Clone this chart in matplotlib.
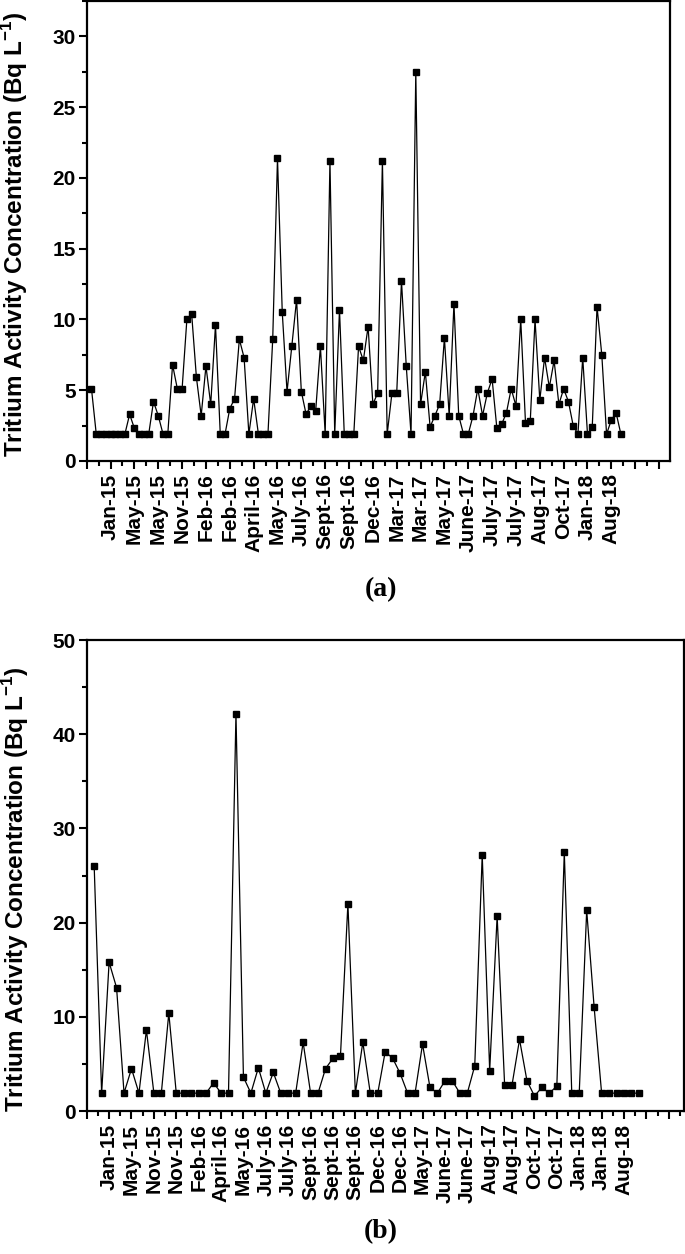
import numpy as np
import matplotlib
matplotlib.use("Agg")
import matplotlib.pyplot as plt
from matplotlib.ticker import MultipleLocator, FixedLocator

## Datos (a) y (b)
conc_a = [5.1, 1.9, 1.9, 1.9, 1.9, 1.9, 1.9, 1.9, 3.3, 2.3,
          1.9, 1.9, 1.9, 4.2, 3.2, 1.9, 1.9, 6.8, 5.1, 5.1,
          10.0, 10.4, 5.9, 3.2, 6.7, 4.0, 9.6, 1.9, 1.9, 3.7,
          4.4, 8.6, 7.3, 1.9, 4.4, 1.9, 1.9, 1.9, 8.6, 21.4,
          10.5, 4.9, 8.1, 11.4, 4.9, 3.3, 3.9, 3.5, 8.1, 1.9,
          21.2, 1.9, 10.7, 1.9, 1.9, 1.9, 8.1, 7.1, 9.5, 4.0,
          4.8, 21.2, 1.9, 4.8, 4.8, 12.7, 6.7, 1.9, 27.5, 4.0,
          6.3, 2.4, 3.2, 4.0, 8.7, 3.2, 11.1, 3.2, 1.9, 1.9,
          3.2, 5.1, 3.2, 4.8, 5.8, 2.3, 2.6, 3.4, 5.1, 3.9,
          10.0, 2.7, 2.8, 10.0, 4.3, 7.3, 5.2, 7.1, 4.0, 5.1,
          4.2, 2.5, 1.9, 7.3, 1.9, 2.4, 10.9, 7.5, 1.9, 2.9,
          3.4, 1.9]

conc_b = [26.0, 1.9, 15.8, 13.1, 1.9, 4.5, 1.9, 8.6, 1.9, 1.9,
          10.4, 1.9, 1.9, 1.9, 1.9, 1.9, 3.0, 1.9, 1.9, 42.2,
          3.6, 1.9, 4.6, 1.9, 4.1, 1.9, 1.9, 1.9, 7.3, 1.9,
          1.9, 4.5, 5.6, 5.8, 22.0, 1.9, 7.3, 1.9, 1.9, 6.3,
          5.6, 4.0, 1.9, 1.9, 7.1, 2.5, 1.9, 3.2, 3.2, 1.9,
          1.9, 4.8, 27.2, 4.3, 20.7, 2.8, 2.8, 7.6, 3.2, 1.6,
          2.5, 1.9, 2.65, 27.5, 1.9, 1.9, 21.3, 11.0, 1.9, 1.9,
          1.9, 1.9, 1.9, 1.9]

etiquetas_a = ["Jan-15", "May-15", "May-15", "Nov-15", "Feb-16", "Feb-16",
               "April-16", "May-16", "July-16", "Sept-16", "Sept-16", "Dec-16",
               "Mar-17", "Mar-17", "May-17", "June-17", "July-17", "July-17",
               "Aug-17", "Oct-17", "Jan-18", "Aug-18"]

etiquetas_b = ["Jan-15", "May-15", "Nov-15", "Nov-15", "Feb-16", "April-16",
               "May-16", "July-16", "July-16", "Sept-16", "Sept-16", "Sept-16",
               "Dec-16", "Dec-16", "May-17", "June-17", "June-17", "Aug-17",
               "Aug-17", "Oct-17", "Oct-17", "Jan-18", "Jan-18", "Aug-18"]

plt.rcParams['font.family'] = ['Liberation Sans', 'DejaVu Sans']
plt.rcParams['font.weight'] = 'bold'
plt.rcParams['mathtext.fontset'] = 'custom'
plt.rcParams['mathtext.bf'] = 'Liberation Sans:bold'
plt.rcParams['mathtext.rm'] = 'Liberation Sans:bold'

fig = plt.figure(figsize=(6.85, 12.54), dpi=100)
ax_a = fig.add_axes([0.1266, 0.6324, 0.8515, 0.3668])
ax_b = fig.add_axes([0.1266, 0.1140, 0.8715, 0.3756])

ylabel = r'Tritium Activity Concentration (Bq L$^{\mathbf{-1}}$)'


def panel(ax, valores, etiquetas, paso, xmax, ymax, ymaj, xlab, ylab):
    x = np.arange(1, len(valores) + 1)
    ax.plot(x, valores, color='black', linewidth=0.9, marker='s',
            markersize=4.2, markerfacecolor='black', markeredgecolor='black')
    ax.set_xlim(0, xmax)
    ax.set_ylim(0, ymax)
    ## ticks mayores cada "paso" (con etiqueta), menores a la mitad
    ticks = np.arange(0, xmax + 0.01, paso)
    ax.xaxis.set_major_locator(FixedLocator(ticks))
    ax.xaxis.set_minor_locator(MultipleLocator(paso / 2))
    pos = [paso * (i + 1) for i in range(len(etiquetas))]
    lab = {p: e for p, e in zip(pos, etiquetas)}
    ax.set_xticklabels([lab.get(t, "") for t in ticks],
                       rotation=90, fontsize=15, fontweight='bold')
    ax.yaxis.set_major_locator(MultipleLocator(ymaj))
    ax.yaxis.set_minor_locator(MultipleLocator(ymaj / 2))
    for t in ax.get_yticklabels():
        t.set_fontsize(15)
        t.set_fontweight('bold')
    ax.tick_params(which='major', direction='out', length=6, width=1.5, pad=3)
    ax.tick_params(which='minor', direction='out', length=3.5, width=1.5)
    ax.tick_params(axis='y', which='major', pad=2)
    for s in ax.spines.values():
        s.set_linewidth(1.6)
    ax.set_ylabel(ylabel, fontsize=17.5, fontweight='bold')
    ax.yaxis.set_label_coords(xlab, ylab)


panel(ax_a, conc_a, etiquetas_a, 5, 122.3, 32.5, 5, -0.097, 0.492)
panel(ax_b, conc_b, etiquetas_b, 3, 80, 50, 10, -0.094, 0.47)

fig.text(0.556, 1 - 590 / 1254, '(a)', ha='center', va='center',
         fontsize=20, fontweight='bold', family='Liberation Serif')
fig.text(0.556, 1 - 1232 / 1254, '(b)', ha='center', va='center',
         fontsize=20, fontweight='bold', family='Liberation Serif')

plt.savefig('out.png', format='png', dpi=100)
